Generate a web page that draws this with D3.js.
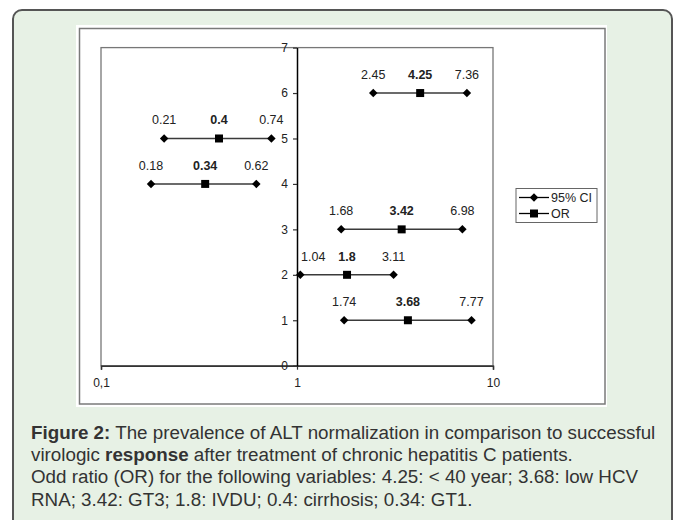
<!DOCTYPE html>
<html>
<head>
<meta charset="utf-8">
<script src="https://cdn.jsdelivr.net/npm/d3@7"></script>
<style>
  html, body { margin: 0; padding: 0; background: #ffffff; }
  svg { display: block; }
</style>
</head>
<body>
<svg id="chart" width="677" height="520"></svg>
<script>
// ---- data ----
const rowLevels = [6, 5, 4, 3, 2, 1];
const ciLow  = [2.45, 0.21, 0.18, 1.68, 1.04, 1.74];
const oddsRatio = [4.25, 0.4, 0.34, 3.42, 1.8, 3.68];
const ciHigh = [7.36, 0.74, 0.62, 6.98, 3.11, 7.77];
const xTickValues = [0.1, 1, 10];
const xTickLabels = ["0,1", "1", "10"];
const yTickValues = [0, 1, 2, 3, 4, 5, 6, 7];
const legendLabels = ["95% CI", "OR"];
const captionLines = [
  [{t: "Figure 2:", b: true}, {t: " The prevalence of ALT normalization in comparison to successful", b: false}],
  [{t: "virologic ", b: false}, {t: "response", b: true}, {t: " after treatment of chronic hepatitis C patients.", b: false}],
  [{t: "Odd ratio (OR) for the following variables: 4.25: < 40 year; 3.68: low HCV", b: false}],
  [{t: "RNA; 3.42: GT3; 1.8: IVDU; 0.4: cirrhosis; 0.34: GT1.", b: false}]
];

const svg = d3.select("#chart");
const font = "Liberation Sans, Arial, sans-serif";

// outer rounded frame
svg.append("rect")
  .attr("x", 13).attr("y", 10).attr("width", 659).attr("height", 530)
  .attr("rx", 9).attr("ry", 9)
  .attr("fill", "#e7f1e5").attr("stroke", "#555").attr("stroke-width", 2);

// white chart panel
svg.append("rect")
  .attr("x", 76).attr("y", 25).attr("width", 531).attr("height", 382)
  .attr("fill", "#ffffff");
svg.append("rect")
  .attr("x", 79.5).attr("y", 28.5).attr("width", 525.5).attr("height", 375.5)
  .attr("fill", "none").attr("stroke", "#7a7a7a").attr("stroke-width", 1.5);

// scales
const x = d3.scaleLog().domain([0.1, 10]).range([101, 493]);
const y = d3.scaleLinear().domain([0, 7]).range([365.7, 47.6]);

// plot area border
svg.append("rect")
  .attr("x", x(0.1)).attr("y", y(7))
  .attr("width", x(10) - x(0.1)).attr("height", y(0) - y(7))
  .attr("fill", "none").attr("stroke", "#777").attr("stroke-width", 1.3);

// x axis
const xAxis = svg.append("g")
  .attr("transform", `translate(0,${y(0)})`)
  .call(d3.axisBottom(x).tickValues(xTickValues)
    .tickFormat((d, i) => xTickLabels[i]).tickSize(4).tickPadding(8.5));
xAxis.select(".domain").attr("stroke", "#333").attr("stroke-width", 1.5);
xAxis.selectAll(".tick line").attr("stroke", "#333").attr("stroke-width", 1.2);
xAxis.selectAll("text").attr("font-family", font).attr("font-size", 12).attr("fill", "#222");

// y axis at x = 1
const yAxis = svg.append("g")
  .attr("transform", `translate(${x(1)},0)`)
  .call(d3.axisLeft(y).tickValues(yTickValues).tickFormat(d3.format("d"))
    .tickSize(4).tickPadding(5).tickSizeOuter(0));
yAxis.select(".domain").attr("stroke", "#000").attr("stroke-width", 1.5);
yAxis.selectAll(".tick line").attr("stroke", "#333").attr("stroke-width", 1.2);
yAxis.selectAll("text").attr("font-family", font).attr("font-size", 12).attr("fill", "#222");

// rows
const rows = rowLevels.map((lv, i) => ({lv, lo: ciLow[i], or: oddsRatio[i], hi: ciHigh[i]}));
const diamond = d3.symbol().type(d3.symbolDiamond2).size(46);
const square = d3.symbol().type(d3.symbolSquare).size(64);

const g = svg.append("g");
g.selectAll("line.ci").data(rows).join("line")
  .attr("x1", d => x(d.lo)).attr("x2", d => x(d.hi))
  .attr("y1", d => y(d.lv)).attr("y2", d => y(d.lv))
  .attr("stroke", "#3a3a3a").attr("stroke-width", 1.5);

const ciPts = rows.flatMap(d => [{v: d.lo, lv: d.lv}, {v: d.hi, lv: d.lv}]);
g.selectAll("path.ci").data(ciPts).join("path")
  .attr("d", diamond)
  .attr("transform", d => `translate(${x(d.v)},${y(d.lv)})`)
  .attr("fill", "#000");
g.selectAll("path.or").data(rows).join("path")
  .attr("d", square)
  .attr("transform", d => `translate(${x(d.or)},${y(d.lv)})`)
  .attr("fill", "#000");

// labels: centred above the point, pushed right of the y axis if they would cross it
function placeLabels(sel) {
  sel.each(function(d) {
    const t = d3.select(this);
    const w = this.getComputedTextLength();
    const cx = +t.attr("x");
    const ax = x(1);
    if (cx - w / 2 < ax + 2 && cx + w / 2 > ax - 2) {
      t.attr("x", ax + 4 + w / 2);
    }
  });
}
g.selectAll("text.ci").data(ciPts).join("text")
  .attr("x", d => x(d.v)).attr("y", d => y(d.lv) - 14)
  .attr("text-anchor", "middle")
  .attr("font-family", font).attr("font-size", 12.5).attr("fill", "#222")
  .text(d => d.v)
  .call(placeLabels);
g.selectAll("text.or").data(rows).join("text")
  .attr("x", d => x(d.or)).attr("y", d => y(d.lv) - 14)
  .attr("text-anchor", "middle")
  .attr("font-family", font).attr("font-size", 12.5).attr("font-weight", "bold").attr("fill", "#222")
  .text(d => d.or)
  .call(placeLabels);

// legend
const lg = svg.append("g");
lg.append("rect").attr("x", 516).attr("y", 188.5).attr("width", 81).attr("height", 34)
  .attr("fill", "#fff").attr("stroke", "#666").attr("stroke-width", 1);
legendLabels.forEach((lab, i) => {
  const ly = 197.5 + i * 16;
  lg.append("line").attr("x1", 519).attr("x2", 549).attr("y1", ly).attr("y2", ly)
    .attr("stroke", "#000").attr("stroke-width", 1.3);
  lg.append("path").attr("d", i === 0 ? diamond : square)
    .attr("transform", `translate(534,${ly})`).attr("fill", "#000");
  lg.append("text").attr("x", 551).attr("y", ly + 4.5)
    .attr("font-family", font).attr("font-size", 12.5).attr("fill", "#222").text(lab);
});

// caption
const cap = svg.append("text")
  .attr("font-family", font).attr("font-size", 18.8).attr("fill", "#333");
captionLines.forEach((line, i) => {
  const t = cap.append("tspan").attr("x", 31).attr("y", 438.5 + i * 22.4);
  line.forEach((seg, j) => {
    const s = j === 0 ? t : cap.append("tspan");
    s.text(seg.t).attr("font-weight", seg.b ? "bold" : "normal");
  });
});
</script>
</body>
</html>
